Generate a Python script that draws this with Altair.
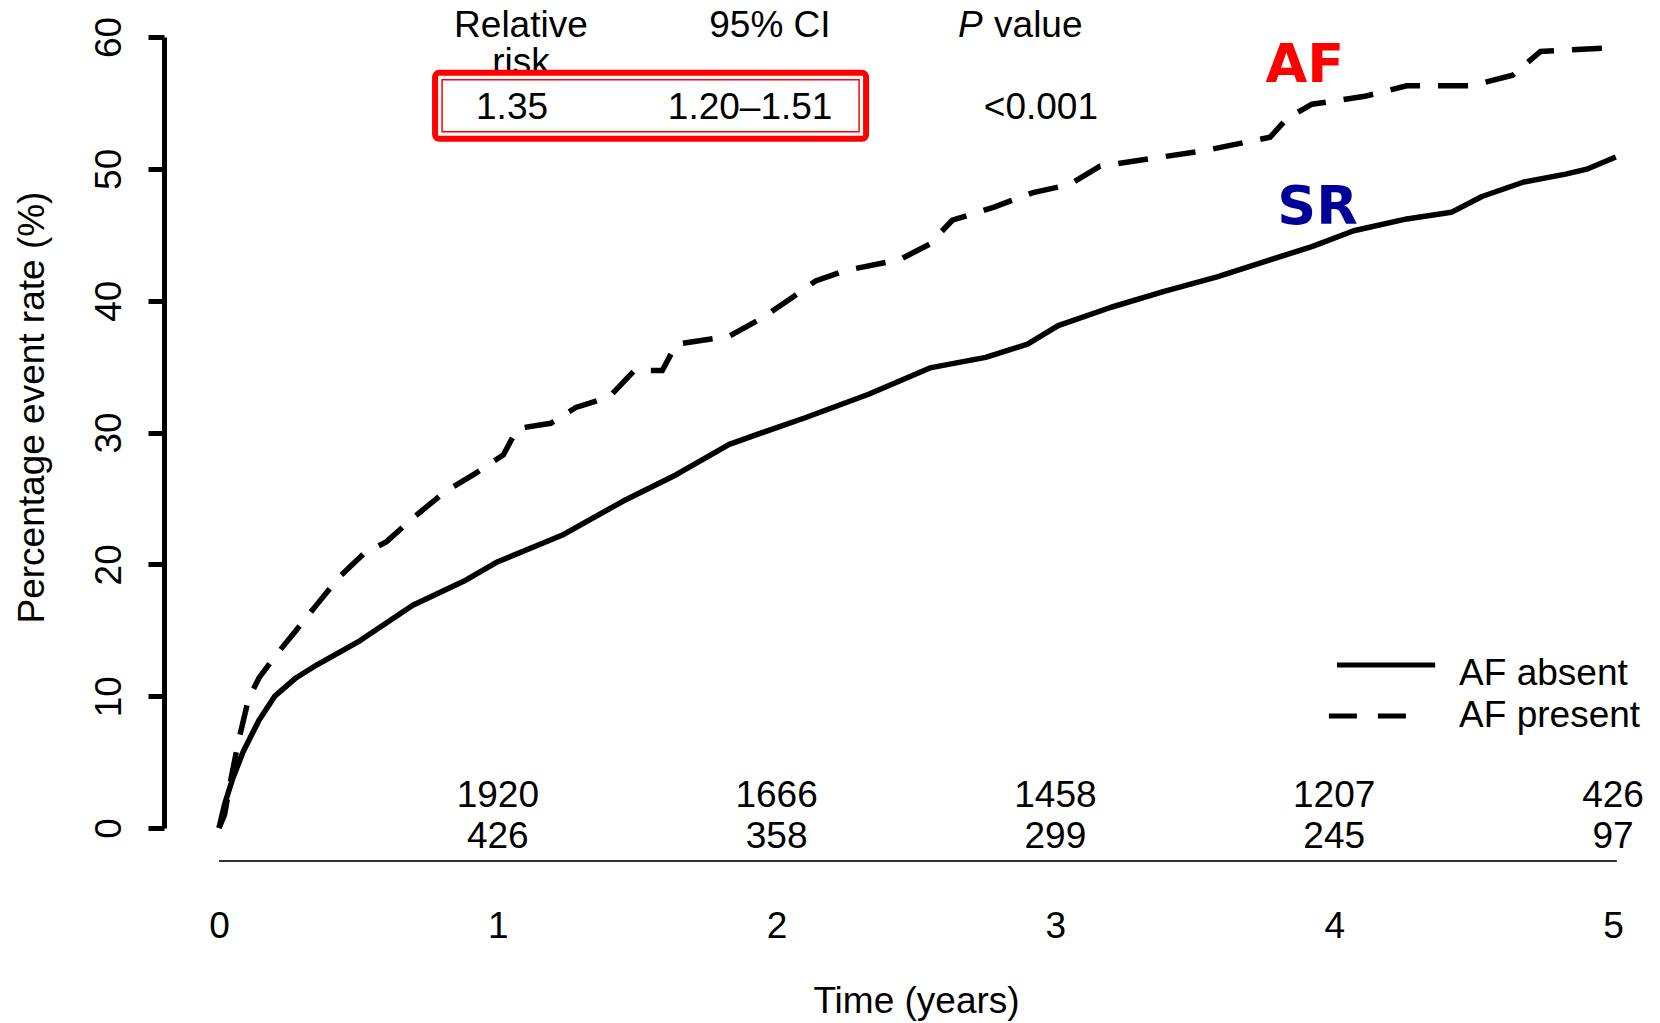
import altair as alt
import pandas as pd

# ---- data ----
t_absent = [0, 0.02, 0.05, 0.087, 0.144, 0.2, 0.277, 0.353, 0.505, 0.695, 0.885, 1.0, 1.23, 1.45,
            1.64, 1.83, 1.99, 2.1, 2.33, 2.55, 2.75, 2.9, 3.01, 3.2, 3.39, 3.58, 3.77, 3.92, 4.07,
            4.26, 4.42, 4.53, 4.68, 4.83, 4.91, 5.01]
v_absent = [0, 1.8, 3.8, 5.8, 8.2, 10.0, 11.4, 12.4, 14.2, 16.9, 18.8, 20.2, 22.2, 24.8,
            26.8, 29.1, 30.3, 31.1, 32.9, 34.9, 35.7, 36.7, 38.1, 39.5, 40.7, 41.8, 43.1, 44.1, 45.3,
            46.2, 46.7, 47.9, 49.0, 49.6, 50.0, 50.9]

t_present = [0, 0.02, 0.04, 0.07, 0.106, 0.144, 0.2, 0.277, 0.353, 0.43, 0.524, 0.6, 0.695, 0.81,
             0.92, 1.02, 1.07, 1.19, 1.28, 1.4, 1.49, 1.59, 1.64, 1.83, 1.95, 2.06, 2.14, 2.25,
             2.44, 2.55, 2.63, 2.78, 2.92, 3.05, 3.16, 3.35, 3.54, 3.77, 3.83, 3.92, 4.11, 4.26,
             4.49, 4.64, 4.74, 5.0]
v_present = [0, 1.0, 3.4, 6.6, 9.8, 11.4, 13.0, 15.0, 17.0, 19.0, 20.9, 21.7, 23.5, 25.5,
             26.9, 28.3, 30.3, 30.7, 31.9, 32.7, 34.7, 34.7, 36.7, 37.3, 38.7, 40.3, 41.5, 42.3,
             43.1, 44.3, 46.1, 47.1, 48.2, 48.8, 50.2, 50.8, 51.4, 52.4, 53.8, 54.9, 55.5, 56.3,
             56.3, 57.1, 58.9, 59.2]

risk_years = [1, 2, 3, 4, 5]
risk_absent = ["1920", "1666", "1458", "1207", "426"]
risk_present = ["426", "358", "299", "245", "97"]

x_ticks = [0, 1, 2, 3, 4, 5]
y_ticks = [0, 10, 20, 30, 40, 50, 60]

header_labels = ["Relative", "95% CI"]
header_x = [1.083, 1.976]
row_labels = ["1.35", "1.20\u20131.51", "<0.001"]
row_x = [1.051, 1.905, 2.948]

legend_labels = ["AF absent", "AF present"]
legend_y = [11.68, 8.5]

FONT = "Liberation Sans"
FS = 37

absent_df = pd.DataFrame({"t": t_absent, "v": v_absent})
present_df = pd.DataFrame({"t": t_present, "v": v_present})

xs = alt.Scale(domain=[0, 5], nice=False, zero=False)
ys = alt.Scale(domain=[0, 60], nice=False, zero=False)

x_axis = alt.Axis(values=x_ticks, format="d", domain=False, ticks=False, grid=False,
                  labelFlush=False, labelOverlap=False,
                  labelPadding=80, labelFontSize=FS, labelFont=FONT, labelColor="black",
                  title="Time (years)", titleFontSize=FS, titleFont=FONT, titleFontWeight="normal",
                  titleColor="black", titleY=173, titleBaseline="middle")
y_axis = alt.Axis(values=y_ticks, format="d", grid=False, offset=55,
                  labelFlush=False, labelOverlap=False,
                  domainWidth=5, domainColor="black", tickWidth=5, tickSize=16, tickColor="black",
                  labelAngle=270, labelAlign="center", labelBaseline="middle", labelPadding=39,
                  labelFontSize=FS, labelFont=FONT, labelColor="black",
                  title="Percentage event rate (%)", titleFontSize=FS, titleFont=FONT,
                  titleFontWeight="normal", titleColor="black", titleX=-132, titleY=370,
                  titleBaseline="middle")

line_absent = alt.Chart(absent_df).mark_line(color="black", strokeWidth=5.5, strokeJoin="round").encode(
    x=alt.X("t:Q", scale=xs, axis=x_axis),
    y=alt.Y("v:Q", scale=ys, axis=y_axis),
)
line_present = alt.Chart(present_df).mark_line(color="black", strokeWidth=5.5, strokeDash=[30, 18]).encode(
    x=alt.X("t:Q", scale=xs),
    y=alt.Y("v:Q", scale=ys),
)

# at-risk numbers
risk_df = pd.DataFrame({
    "x": risk_years + risk_years,
    "y": [2.43] * 5 + [-0.68] * 5,
    "label": risk_absent + risk_present,
})
risk_text = alt.Chart(risk_df).mark_text(font=FONT, fontSize=FS, color="black", baseline="middle",
                                         align="center").encode(
    x=alt.X("x:Q", scale=xs), y=alt.Y("y:Q", scale=ys), text="label:N")

base_rule = alt.Chart(pd.DataFrame({"x": [0], "x2": [5.014], "y": [-2.5]})).mark_rule(
    color="#333333", strokeWidth=2).encode(
    x=alt.X("x:Q", scale=xs), x2="x2:Q", y=alt.Y("y:Q", scale=ys))

# table header
header_df = pd.DataFrame({"x": header_x + [1.083], "y": [60.85, 60.85, 58.0],
                          "label": header_labels + ["risk"]})
header_text = alt.Chart(header_df).mark_text(font=FONT, fontSize=FS, color="black",
                                             baseline="middle", align="center").encode(
    x=alt.X("x:Q", scale=xs), y=alt.Y("y:Q", scale=ys), text="label:N")
p_text = alt.Chart(pd.DataFrame({"x": [2.651], "y": [60.85], "label": ["P"]})).mark_text(
    font=FONT, fontSize=FS, fontStyle="italic", color="black", baseline="middle", align="left").encode(
    x=alt.X("x:Q", scale=xs), y=alt.Y("y:Q", scale=ys), text="label:N")
value_text = alt.Chart(pd.DataFrame({"x": [2.78], "y": [60.85], "label": ["value"]})).mark_text(
    font=FONT, fontSize=FS, color="black", baseline="middle", align="left").encode(
    x=alt.X("x:Q", scale=xs), y=alt.Y("y:Q", scale=ys), text="label:N")

box_df = pd.DataFrame({"x": [0.775], "x2": [2.321], "y": [57.28], "y2": [52.28]})
box_outer = alt.Chart(box_df).mark_rect(fill="white", stroke="#ff0000", strokeWidth=6,
                                        cornerRadius=4).encode(
    x=alt.X("x:Q", scale=xs), x2="x2:Q", y=alt.Y("y:Q", scale=ys), y2="y2:Q")
box_inner = alt.Chart(box_df).mark_rect(fill="white", fillOpacity=0, stroke="#ff0000", strokeWidth=1.5,
                                        xOffset=7, x2Offset=-7, yOffset=7, y2Offset=-7).encode(
    x=alt.X("x:Q", scale=xs), x2="x2:Q", y=alt.Y("y:Q", scale=ys), y2="y2:Q")

row_df = pd.DataFrame({"x": row_x, "y": [54.6] * 3, "label": row_labels})
row_text = alt.Chart(row_df).mark_text(font=FONT, fontSize=FS, color="black", baseline="middle",
                                       align="center").encode(
    x=alt.X("x:Q", scale=xs), y=alt.Y("y:Q", scale=ys), text="label:N")

# AF / SR labels
tag_df = pd.DataFrame({"x": [3.895, 3.94], "y": [57.8, 47.0], "label": ["AF", "SR"],
                       "c": ["#ff0000", "#000099"]})
tag_text = alt.Chart(tag_df).mark_text(font="DejaVu Sans", fontSize=54, fontWeight="bold",
                                       baseline="middle", align="center").encode(
    x=alt.X("x:Q", scale=xs), y=alt.Y("y:Q", scale=ys), text="label:N",
    color=alt.Color("c:N", scale=None))

# legend
leg_solid = alt.Chart(pd.DataFrame({"x": [4.010], "x2": [4.362], "y": [12.37]})).mark_rule(
    color="black", strokeWidth=5).encode(x=alt.X("x:Q", scale=xs), x2="x2:Q", y=alt.Y("y:Q", scale=ys))
leg_dash = alt.Chart(pd.DataFrame({"x": [3.981], "x2": [4.275], "y": [8.5]})).mark_rule(
    color="black", strokeWidth=5, strokeDash=[28, 21]).encode(
    x=alt.X("x:Q", scale=xs), x2="x2:Q", y=alt.Y("y:Q", scale=ys))
leg_df = pd.DataFrame({"x": [4.448, 4.448], "y": legend_y, "label": legend_labels})
leg_text = alt.Chart(leg_df).mark_text(font=FONT, fontSize=FS, color="black", baseline="middle",
                                       align="left").encode(
    x=alt.X("x:Q", scale=xs), y=alt.Y("y:Q", scale=ys), text="label:N")

chart = alt.layer(
    line_absent, line_present, risk_text, base_rule, header_text, p_text, value_text,
    box_outer, box_inner, row_text, tag_text, leg_solid, leg_dash, leg_text,
).properties(
    width=1394, height=791,
    background="white",
    autosize=alt.AutoSizeParams(type="none"),
    padding={"left": 219, "top": 37, "right": 47, "bottom": 195},
).configure_view(stroke="transparent", strokeWidth=0)

chart.save("out.html", embed_options={"renderer": "svg", "actions": False})
